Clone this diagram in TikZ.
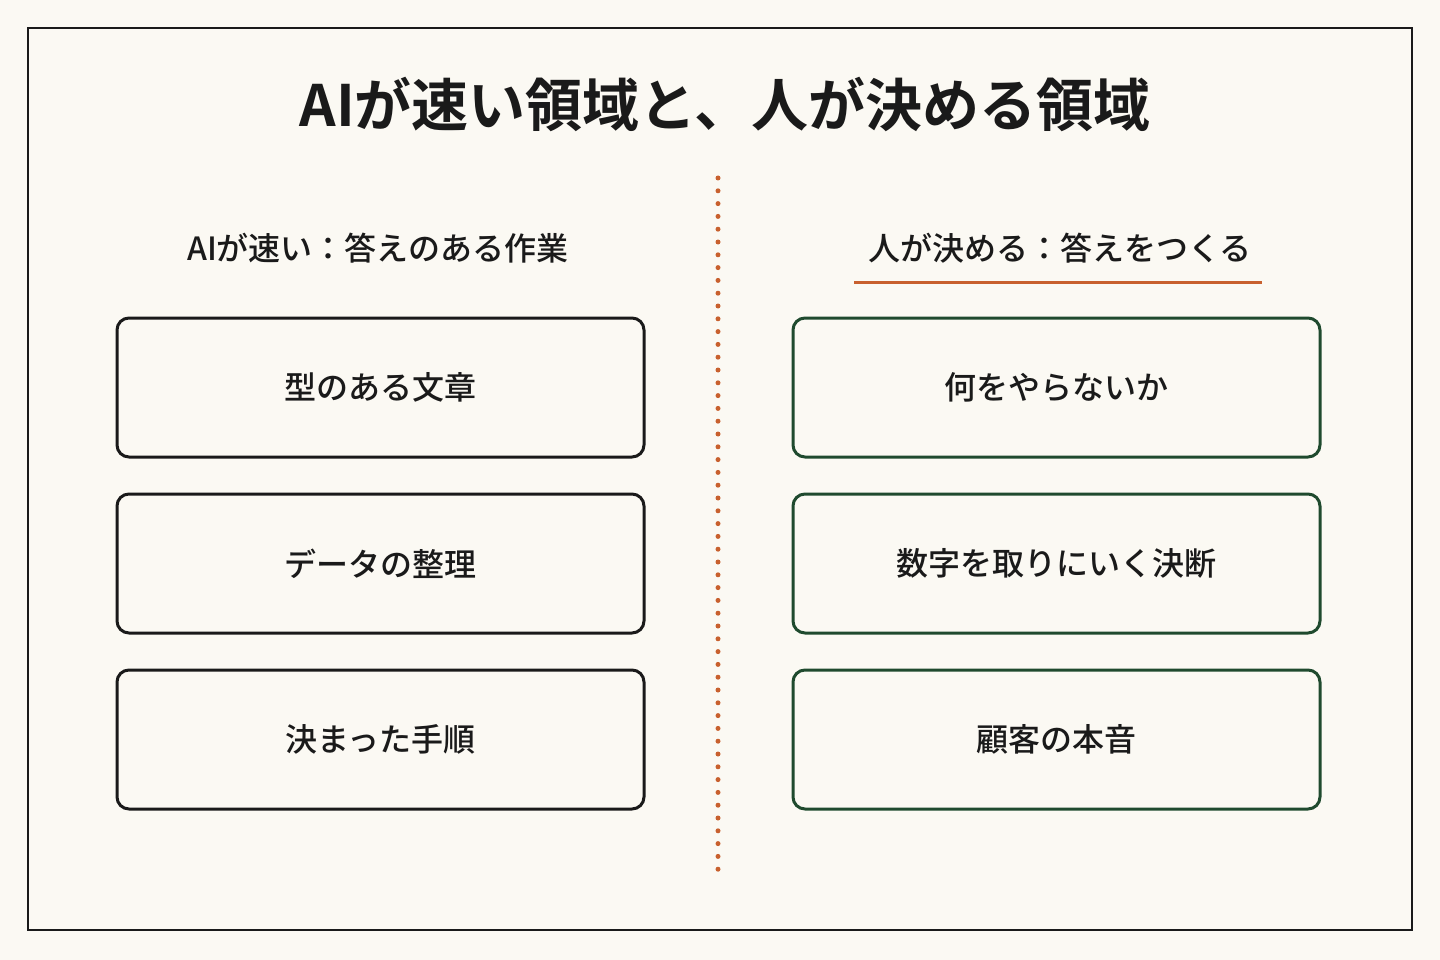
\documentclass[tikz,border=0pt]{standalone}
\usepackage{fontspec}
\newfontfamily\jp{Noto Sans CJK JP Medium}
\newfontfamily\jpb{Noto Sans CJK JP Bold}
\definecolor{bg}{HTML}{FBF9F3}
\definecolor{ink}{HTML}{1A1A1A}
\definecolor{grn}{HTML}{1F4A2E}
\definecolor{org}{HTML}{C8602E}
\begin{document}
\begin{tikzpicture}[x=1pt,y=-1pt,
  lbox/.style={draw=ink,line width=3pt,rounded corners=12pt,minimum width=527pt,minimum height=139pt,font=\jp\fontsize{32}{38}\selectfont,text=ink},
  rbox/.style={lbox,draw=grn},
  sub/.style={font=\jp\fontsize{32}{38}\selectfont,text=ink}]
\fill[bg] (0,0) rectangle (1440,960);
\useasboundingbox (0,0) rectangle (1440,960);
\draw[ink,line width=2.8pt] (28,28) rectangle (1412,930);
\node[font=\jpb\fontsize{57}{66}\selectfont,text=ink] (title) at (725,104) {AIが速い領域と、人が決める領域};
\node[sub] (lh) at (378,248) {AIが速い：答えのある作業};
\node[sub] (rh) at (1060,248) {人が決める：答えをつくる};
\coordinate (u1) at (854,282); \coordinate (u2) at (1262,282);
\draw[org,line width=3pt] (u1) -- (u2);
\coordinate (d1) at (718,178); \coordinate (d2) at (718,870);
\draw[org,line width=5pt,line cap=round,dash pattern=on 0pt off 12.8pt] (d1) -- (d2);
\node[lbox] (l1) at (380.5,387.5) {型のある文章};
\node[lbox] (l2) at (380.5,563.5) {データの整理};
\node[lbox] (l3) at (380.5,739.5) {決まった手順};
\node[rbox] (r1) at (1056.5,387.5) {何をやらないか};
\node[rbox] (r2) at (1056.5,563.5) {数字を取りにいく決断};
\node[rbox] (r3) at (1056.5,739.5) {顧客の本音};
\end{tikzpicture}
\end{document}
